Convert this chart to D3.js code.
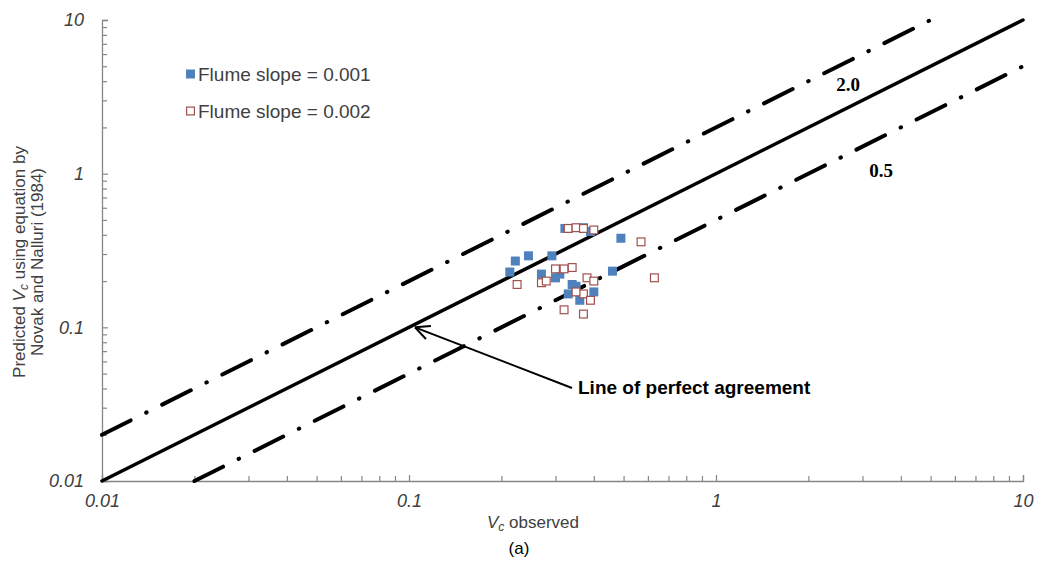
<!DOCTYPE html>
<html>
<head>
<meta charset="utf-8">
<script src="https://cdn.jsdelivr.net/npm/d3@7"></script>
<style>
  body { margin:0; background:#fff; }
  svg { font-family: Arial, "Liberation Sans", sans-serif; }
</style>
</head>
<body>
<svg id="chart" width="1038" height="567"></svg>
<script>
// observed / predicted Vc, flume slope 0.001 (filled)
var slope001 = [
  [0.213,0.229],[0.222,0.270],[0.245,0.292],[0.270,0.222],[0.292,0.292],
  [0.300,0.210],[0.310,0.222],[0.322,0.440],[0.370,0.445],[0.390,0.420],
  [0.330,0.165],[0.350,0.185],[0.360,0.150],[0.400,0.170],[0.460,0.232],
  [0.490,0.380],[0.340,0.190]
];
// flume slope 0.002 (open)
var slope002 = [
  [0.225,0.190],[0.270,0.195],[0.280,0.200],[0.300,0.240],[0.320,0.240],
  [0.340,0.245],[0.330,0.440],[0.350,0.445],[0.370,0.440],[0.400,0.430],
  [0.320,0.130],[0.370,0.122],[0.380,0.210],[0.400,0.200],[0.370,0.165],
  [0.390,0.150],[0.350,0.170],[0.570,0.360],[0.630,0.210]
];
var majorTicks = [0.01, 0.1, 1, 10];
var tickLabels = ["0.01", "0.1", "1", "10"];
var legendNames = ["Flume slope = 0.001", "Flume slope = 0.002"];
// ratio lines: predicted = k * observed
var ratioLines = [
  {k:1,   from:0.01, to:10, label:null},
  {k:2,   from:0.01, to:5,  label:"2.0"},
  {k:0.5, from:0.02, to:10, label:"0.5"}
];

var svg = d3.select("#chart");
var x = d3.scaleLog().domain([0.01,10]).range([102,1023]);
var y = d3.scaleLog().domain([0.01,10]).range([481,20]);

var minorTicks = [];
majorTicks.slice(0,3).forEach(function(m) {
  for (var i=2; i<10; i++) minorTicks.push(m*i);
});

var axisCol = "#868686", txtCol = "#404040";

// axes
var gx = svg.append("g").attr("transform","translate(0,481)");
gx.call(d3.axisBottom(x).tickValues(minorTicks).tickSize(-5).tickFormat(""));
gx.call(function(g){ g.select(".domain").remove(); });
var gx2 = svg.append("g").attr("transform","translate(0,481)")
  .call(d3.axisBottom(x).tickValues(majorTicks).tickSize(-6).tickPadding(13)
    .tickFormat(function(d,i){ return tickLabels[i]; }));

var gy = svg.append("g").attr("transform","translate(102,0)");
gy.call(d3.axisLeft(y).tickValues(minorTicks).tickSize(-5).tickFormat(""));
gy.call(function(g){ g.select(".domain").remove(); });
var gy2 = svg.append("g").attr("transform","translate(102,0)")
  .call(d3.axisLeft(y).tickValues(majorTicks).tickSize(-6).tickPadding(18)
    .tickFormat(function(d,i){ return tickLabels[i]; }));

svg.selectAll(".domain").attr("stroke",axisCol).attr("stroke-width",1.3);
svg.selectAll(".tick line").attr("stroke",axisCol).attr("stroke-width",1.2);
svg.selectAll(".tick text")
  .attr("fill",txtCol).style("font-size","18px").style("font-style","italic")
  .style("font-family","Arial, 'Liberation Sans', sans-serif");

// ratio lines
ratioLines.forEach(function(r) {
  svg.append("line")
    .attr("x1",x(r.from)).attr("y1",y(r.from*r.k))
    .attr("x2",x(r.to)).attr("y2",y(r.to*r.k))
    .attr("stroke","#000").attr("stroke-width",r.k==1 ? 3.5 : 4)
    .attr("stroke-linecap","round")
    .attr("stroke-dasharray", r.k==1 ? null : "32,17.4,0.5,17.4");
});

svg.append("text").attr("x",848).attr("y",91).attr("text-anchor","middle")
  .style("font-family","'Liberation Serif', 'Times New Roman', serif")
  .style("font-weight","bold").style("font-size","19px").text(ratioLines[1].label);
svg.append("text").attr("x",881).attr("y",177).attr("text-anchor","middle")
  .style("font-family","'Liberation Serif', 'Times New Roman', serif")
  .style("font-weight","bold").style("font-size","19px").text(ratioLines[2].label);

// points
var sz = 9;
svg.append("g").selectAll("rect.s1").data(slope001).enter().append("rect")
  .attr("x",function(d){ return x(d[0])-sz/2; })
  .attr("y",function(d){ return y(d[1])-sz/2; })
  .attr("width",sz).attr("height",sz)
  .attr("fill","#4F81BD");
svg.append("g").selectAll("rect.s2").data(slope002).enter().append("rect")
  .attr("x",function(d){ return x(d[0])-sz/2+0.6; })
  .attr("y",function(d){ return y(d[1])-sz/2+0.6; })
  .attr("width",sz-1.2).attr("height",sz-1.2)
  .attr("fill","#fff").attr("stroke","#A0504D").attr("stroke-width",1.2);

// arrow to the 1:1 line
var tip = [x(0.1)+6, y(0.1)];
var tail = [572, 388];
svg.append("line").attr("x1",tail[0]).attr("y1",tail[1]).attr("x2",tip[0]).attr("y2",tip[1])
  .attr("stroke","#000").attr("stroke-width",2);
var ang = Math.atan2(tail[1]-tip[1], tail[0]-tip[0]);
[0.45,-0.45].forEach(function(a) {
  svg.append("line").attr("x1",tip[0]).attr("y1",tip[1])
    .attr("x2",tip[0]+16*Math.cos(ang+a)).attr("y2",tip[1]+16*Math.sin(ang+a))
    .attr("stroke","#000").attr("stroke-width",2);
});
svg.append("text").attr("x",578).attr("y",394)
  .style("font-weight","bold").style("font-size","19px").text("Line of perfect agreement");

// legend
legendNames.forEach(function(n,i) {
  var ly = 74 + i*37;
  if (i==0) svg.append("rect").attr("x",186).attr("y",ly-4.5).attr("width",9).attr("height",9).attr("fill","#4F81BD");
  else svg.append("rect").attr("x",186.6).attr("y",ly-3.9).attr("width",7.8).attr("height",7.8)
    .attr("fill","#fff").attr("stroke","#A0504D").attr("stroke-width",1.2);
  svg.append("text").attr("x",198).attr("y",ly+7).attr("fill",txtCol)
    .style("font-size","19px").text(n);
});

// axis titles
var xt = svg.append("text").attr("x",533).attr("y",528).attr("text-anchor","middle")
  .attr("fill",txtCol).style("font-size","17px");
xt.append("tspan").style("font-style","italic").text("V");
xt.append("tspan").style("font-style","italic").style("font-size","12px").attr("dy",3).text("c");
xt.append("tspan").attr("dy",-3).text(" observed");

var yt = svg.append("text").attr("transform","translate(25,262) rotate(-90)")
  .attr("text-anchor","middle").attr("fill",txtCol).style("font-size","17px");
yt.append("tspan").text("Predicted ");
yt.append("tspan").style("font-style","italic").text("V");
yt.append("tspan").style("font-style","italic").style("font-size","12px").attr("dy",3).text("c");
yt.append("tspan").attr("dy",-3).text(" using equation by");
svg.append("text").attr("transform","translate(43,262) rotate(-90)")
  .attr("text-anchor","middle").attr("fill",txtCol).style("font-size","17px")
  .text("Novak and Nalluri (1984)");

svg.append("text").attr("x",519).attr("y",554).attr("text-anchor","middle")
  .style("font-size","17px").text("(a)");
</script>
</body>
</html>
